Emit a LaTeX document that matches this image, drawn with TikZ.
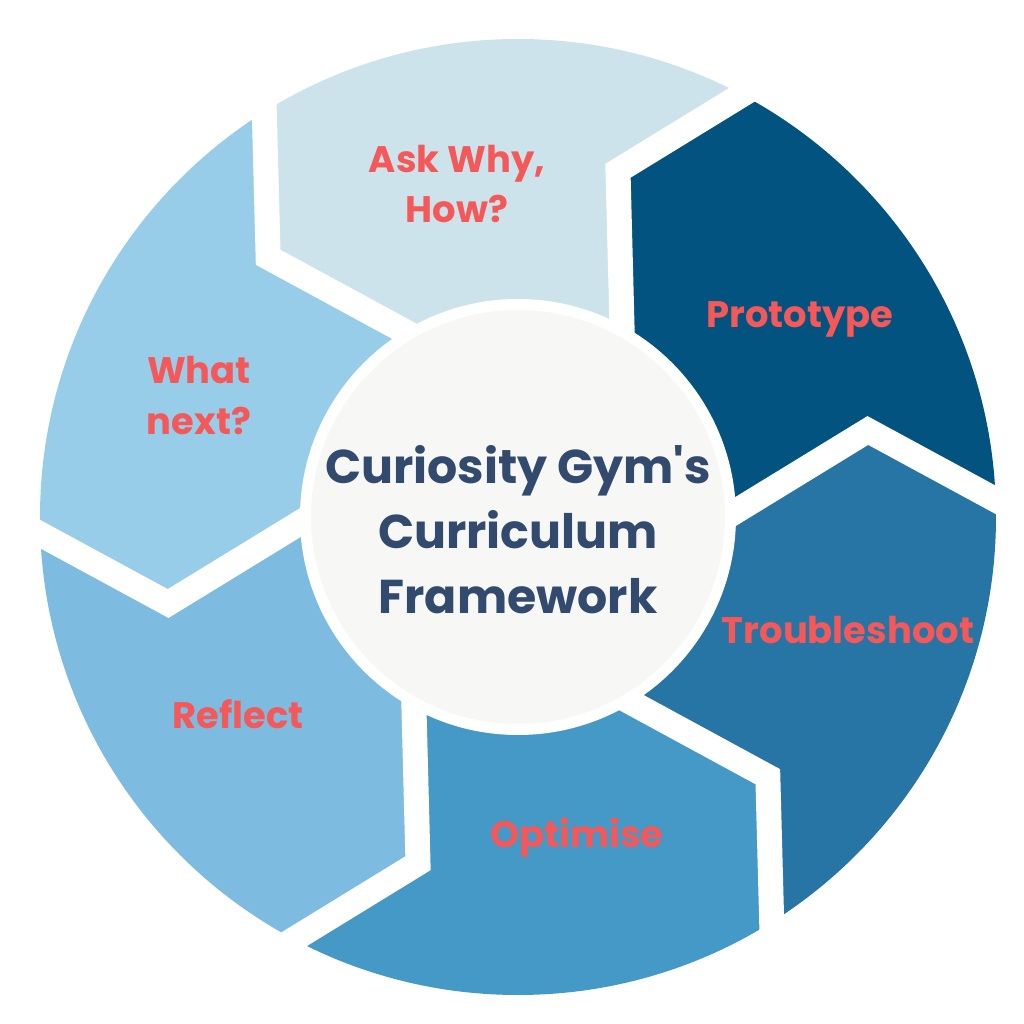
\documentclass[tikz,border=0pt]{standalone}
\usepackage{fontspec}
\setmainfont{Poppins}
\definecolor{protocol}{HTML}{02537F}
\definecolor{askcol}{HTML}{CDE3EC}
\definecolor{nextcol}{HTML}{97CDE8}
\definecolor{reflectcol}{HTML}{7DBCE0}
\definecolor{optimcol}{HTML}{4499C6}
\definecolor{troublecol}{HTML}{2675A5}
\definecolor{hubgray}{HTML}{F7F7F5}
\definecolor{coral}{HTML}{F55858}
\definecolor{navy}{HTML}{314A6E}
\begin{document}
\begin{tikzpicture}[
    gap/.style={line width=0.25cm, white, line join=miter},
    tag/.style={text=coral, align=center, font=\bfseries\fontsize{10.5}{14.5}\selectfont}
]
    \useasboundingbox (-5.18,-5.07) rectangle (5.06,5.17);
    % segments
        \begin{scope}
            \clip (0,0) circle (4.78);
            \foreach \a/\c in {1.5/protocol,61.5/askcol,121.5/nextcol,181.5/reflectcol,241.5/optimcol,301.5/troublecol}{
                \fill[\c] (0,0) -- (\a:2.18) -- ({\a+12.39}:3.604) -- (\a:4.86) -- (\a:6)
                    arc[start angle=\a, end angle={\a+60}, radius=6]
                    -- ({\a+60}:4.86) -- ({\a+72.39}:3.604) -- ({\a+60}:2.18) -- cycle;
            }
        \end{scope}
    % gaps
        \foreach \a in {1.5,61.5,121.5,181.5,241.5,301.5}{
            \draw[gap] ({\a-10.65}:1.673) -- ({\a+12.39}:3.604) -- ({\a-2.52}:5.267);
        }
    % hub
        \node (hub) [circle, fill=hubgray, draw=white, line width=0.11cm, minimum size=4.25cm, inner sep=0pt] at (0,0) {};
        \node (title) [text=navy, align=center, font=\bfseries\fontsize{13.5}{18.5}\selectfont] at (0,-0.13)
            {Curiosity Gym\textquotesingle s\\Curriculum\\Framework};
    % labels
        \node (ask) [tag] at (-0.61,3.33) {Ask Why,\\How?};
        \node (proto) [tag] at (2.82,1.98) {Prototype};
        \node (trouble) [tag] at (3.30,-1.125) {Troubleshoot};
        \node (optim) [tag] at (0.59,-3.21) {Optimise};
        \node (reflect) [tag] at (-2.80,-1.975) {Reflect};
        \node (whatnext) [tag] at (-3.19,1.215) {What\\next?};
\end{tikzpicture}
\end{document}
